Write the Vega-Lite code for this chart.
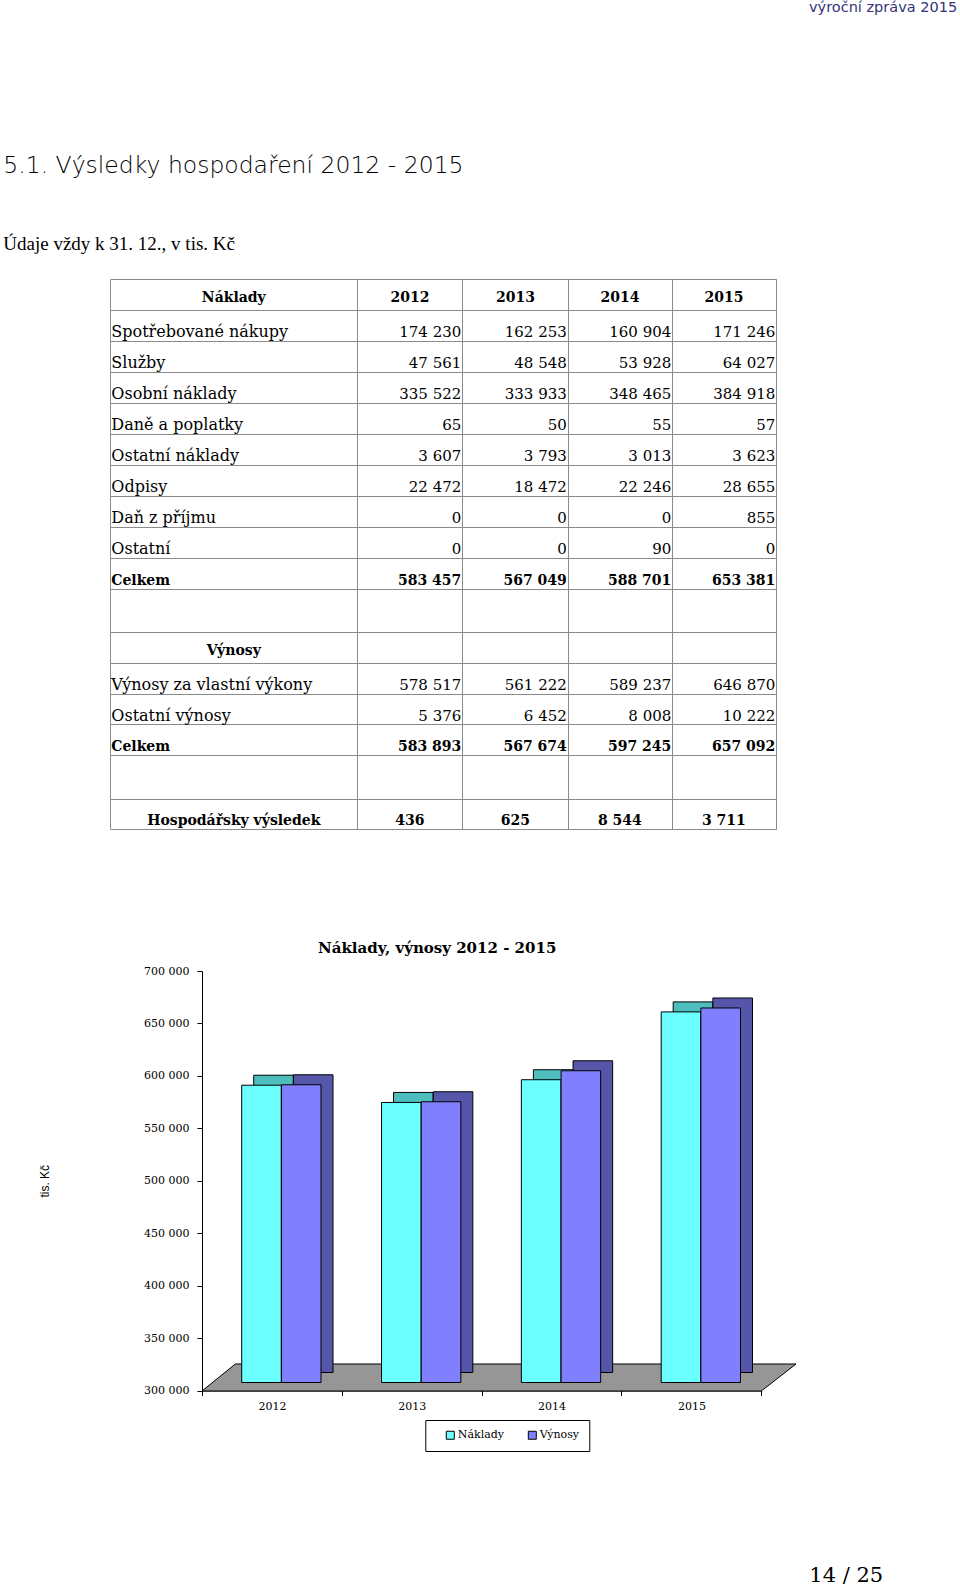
{
  "$schema": "https://vega.github.io/schema/vega-lite/v6.json",
  "background": "white",
  "padding": {"left": 3, "top": 0, "right": 0, "bottom": 0},
  "bounds": "flush",
  "spacing": 142,
  "title": {"text": "výroční zpráva 2015", "anchor": "start", "frame": "group", "dx": 607, "font": "DejaVu Sans", "fontSize": 14.5, "fontWeight": "normal", "color": "#34347a", "offset": 138},
  "datasets": {
    "table": [
      {"r": 0, "label": "Náklady", "kind": "head"},
      {"r": 1, "label": "Spotřebované nákupy", "kind": "item", "2012": 174230, "2013": 162253, "2014": 160904, "2015": 171246},
      {"r": 2, "label": "Služby", "kind": "item", "2012": 47561, "2013": 48548, "2014": 53928, "2015": 64027},
      {"r": 3, "label": "Osobní náklady", "kind": "item", "2012": 335522, "2013": 333933, "2014": 348465, "2015": 384918},
      {"r": 4, "label": "Daně a poplatky", "kind": "item", "2012": 65, "2013": 50, "2014": 55, "2015": 57},
      {"r": 5, "label": "Ostatní náklady", "kind": "item", "2012": 3607, "2013": 3793, "2014": 3013, "2015": 3623},
      {"r": 6, "label": "Odpisy", "kind": "item", "2012": 22472, "2013": 18472, "2014": 22246, "2015": 28655},
      {"r": 7, "label": "Daň z příjmu", "kind": "item", "2012": 0, "2013": 0, "2014": 0, "2015": 855},
      {"r": 8, "label": "Ostatní", "kind": "item", "2012": 0, "2013": 0, "2014": 90, "2015": 0},
      {"r": 9, "label": "Celkem", "kind": "total", "2012": 583457, "2013": 567049, "2014": 588701, "2015": 653381},
      {"r": 11, "label": "Výnosy", "kind": "head"},
      {"r": 12, "label": "Výnosy za vlastní výkony", "kind": "item", "2012": 578517, "2013": 561222, "2014": 589237, "2015": 646870},
      {"r": 13, "label": "Ostatní výnosy", "kind": "item", "2012": 5376, "2013": 6452, "2014": 8008, "2015": 10222},
      {"r": 14, "label": "Celkem", "kind": "total", "2012": 583893, "2013": 567674, "2014": 597245, "2015": 657092},
      {"r": 16, "label": "Hospodářsky výsledek", "kind": "result", "2012": 436, "2013": 625, "2014": 8544, "2015": 3711}
    ],
    "chart": [
      {"year": 2012, "series": "Náklady", "value": 583457},
      {"year": 2012, "series": "Výnosy", "value": 583893},
      {"year": 2013, "series": "Náklady", "value": 567049},
      {"year": 2013, "series": "Výnosy", "value": 567674},
      {"year": 2014, "series": "Náklady", "value": 588701},
      {"year": 2014, "series": "Výnosy", "value": 597245},
      {"year": 2015, "series": "Náklady", "value": 653381},
      {"year": 2015, "series": "Výnosy", "value": 657092}
    ]
  },
  "vconcat": [
    {
      "width": 575,
      "height": 550,
      "data": {"name": "table"},
      "title": {"text": "5.1. Výsledky hospodaření 2012 - 2015", "subtitle": "Údaje vždy k 31. 12., v tis. Kč", "anchor": "start", "frame": "group", "dx": -198.7, "font": "DejaVu Sans", "fontSize": 23.5, "fontWeight": 200, "color": "black", "subtitleFont": "Liberation Serif", "subtitleFontSize": 19, "subtitleColor": "black", "subtitlePadding": 58, "offset": 25},
      "layer": [
        {
          "transform": [
            {"fold": ["2012", "2013", "2014", "2015"], "as": ["year", "value"]},
            {"filter": "isValid(datum.value) && datum.kind === 'item'"}
          ],
          "mark": {"type": "text", "align": "right", "baseline": "middle", "dx": -1, "dy": 22, "font": "DejaVu Serif", "fontSize": 15, "fill": "black"},
          "encoding": {
            "x": {"field": "year", "type": "quantitative", "scale": {"domain": [2010, 2011, 2012, 2013, 2014, 2015], "range": [-91.7, 155.3, 260.3, 365.8, 470.3, 574.3], "zero": false, "nice": false}, "axis": {"values": [2010, 2011, 2012, 2013, 2014, 2015], "grid": true, "gridColor": "#8a8a8a", "gridOpacity": 1, "gridWidth": 1, "domain": false, "ticks": false, "labels": false, "title": null}},
            "y": {"field": "r", "type": "quantitative", "scale": {"domain": [0, 10, 11, 15, 16, 17], "range": [0, 310, 353, 476, 520, 550], "zero": false, "nice": false}, "axis": {"values": [0, 1, 2, 3, 4, 5, 6, 7, 8, 9, 10, 11, 12, 13, 14, 15, 16, 17], "grid": true, "gridColor": "#8a8a8a", "gridOpacity": 1, "gridWidth": 1, "domain": false, "ticks": false, "labels": false, "title": null}},
            "text": {"field": "value", "type": "quantitative", "format": ",d"}
          }
        },
        {
          "transform": [
            {"fold": ["2012", "2013", "2014", "2015"], "as": ["year", "value"]},
            {"filter": "isValid(datum.value) && datum.kind === 'total'"}
          ],
          "mark": {"type": "text", "align": "right", "baseline": "middle", "dx": -1, "dy": 23, "font": "DejaVu Serif", "fontSize": 14, "fontWeight": "bold", "fill": "black"},
          "encoding": {
            "x": {"field": "year", "type": "quantitative", "scale": {"domain": [2010, 2011, 2012, 2013, 2014, 2015], "range": [-91.7, 155.3, 260.3, 365.8, 470.3, 574.3], "zero": false, "nice": false}, "axis": {"values": [2010, 2011, 2012, 2013, 2014, 2015], "grid": true, "gridColor": "#8a8a8a", "gridOpacity": 1, "gridWidth": 1, "domain": false, "ticks": false, "labels": false, "title": null}},
            "y": {"field": "r", "type": "quantitative", "scale": {"domain": [0, 10, 11, 15, 16, 17], "range": [0, 310, 353, 476, 520, 550], "zero": false, "nice": false}, "axis": {"values": [0, 1, 2, 3, 4, 5, 6, 7, 8, 9, 10, 11, 12, 13, 14, 15, 16, 17], "grid": true, "gridColor": "#8a8a8a", "gridOpacity": 1, "gridWidth": 1, "domain": false, "ticks": false, "labels": false, "title": null}},
            "text": {"field": "value", "type": "quantitative", "format": ",d"}
          }
        },
        {
          "transform": [
            {"fold": ["2012", "2013", "2014", "2015"], "as": ["year", "value"]},
            {"filter": "isValid(datum.value) && datum.kind === 'result'"}
          ],
          "mark": {"type": "text", "align": "center", "baseline": "middle", "dx": -52.4, "dy": 22, "font": "DejaVu Serif", "fontSize": 14, "fontWeight": "bold", "fill": "black"},
          "encoding": {
            "x": {"field": "year", "type": "quantitative", "scale": {"domain": [2010, 2011, 2012, 2013, 2014, 2015], "range": [-91.7, 155.3, 260.3, 365.8, 470.3, 574.3], "zero": false, "nice": false}, "axis": {"values": [2010, 2011, 2012, 2013, 2014, 2015], "grid": true, "gridColor": "#8a8a8a", "gridOpacity": 1, "gridWidth": 1, "domain": false, "ticks": false, "labels": false, "title": null}},
            "y": {"field": "r", "type": "quantitative", "scale": {"domain": [0, 10, 11, 15, 16, 17], "range": [0, 310, 353, 476, 520, 550], "zero": false, "nice": false}, "axis": {"values": [0, 1, 2, 3, 4, 5, 6, 7, 8, 9, 10, 11, 12, 13, 14, 15, 16, 17], "grid": true, "gridColor": "#8a8a8a", "gridOpacity": 1, "gridWidth": 1, "domain": false, "ticks": false, "labels": false, "title": null}},
            "text": {"field": "value", "type": "quantitative", "format": ",d"}
          }
        },
        {
          "transform": [{"filter": "datum.kind === 'item'"}],
          "mark": {"type": "text", "align": "left", "baseline": "middle", "dx": 1, "dy": 22, "font": "DejaVu Serif", "fontSize": 16, "fill": "black"},
          "encoding": {
            "x": {"datum": 2010, "type": "quantitative", "scale": {"domain": [2010, 2011, 2012, 2013, 2014, 2015], "range": [-91.7, 155.3, 260.3, 365.8, 470.3, 574.3], "zero": false, "nice": false}, "axis": {"values": [2010, 2011, 2012, 2013, 2014, 2015], "grid": true, "gridColor": "#8a8a8a", "gridOpacity": 1, "gridWidth": 1, "domain": false, "ticks": false, "labels": false, "title": null}},
            "y": {"field": "r", "type": "quantitative", "scale": {"domain": [0, 10, 11, 15, 16, 17], "range": [0, 310, 353, 476, 520, 550], "zero": false, "nice": false}, "axis": {"values": [0, 1, 2, 3, 4, 5, 6, 7, 8, 9, 10, 11, 12, 13, 14, 15, 16, 17], "grid": true, "gridColor": "#8a8a8a", "gridOpacity": 1, "gridWidth": 1, "domain": false, "ticks": false, "labels": false, "title": null}},
            "text": {"field": "label", "type": "nominal"}
          }
        },
        {
          "transform": [{"filter": "datum.kind === 'total'"}],
          "mark": {"type": "text", "align": "left", "baseline": "middle", "dx": 1, "dy": 23, "font": "DejaVu Serif", "fontSize": 14, "fontWeight": "bold", "fill": "black"},
          "encoding": {
            "x": {"datum": 2010, "type": "quantitative", "scale": {"domain": [2010, 2011, 2012, 2013, 2014, 2015], "range": [-91.7, 155.3, 260.3, 365.8, 470.3, 574.3], "zero": false, "nice": false}, "axis": {"values": [2010, 2011, 2012, 2013, 2014, 2015], "grid": true, "gridColor": "#8a8a8a", "gridOpacity": 1, "gridWidth": 1, "domain": false, "ticks": false, "labels": false, "title": null}},
            "y": {"field": "r", "type": "quantitative", "scale": {"domain": [0, 10, 11, 15, 16, 17], "range": [0, 310, 353, 476, 520, 550], "zero": false, "nice": false}, "axis": {"values": [0, 1, 2, 3, 4, 5, 6, 7, 8, 9, 10, 11, 12, 13, 14, 15, 16, 17], "grid": true, "gridColor": "#8a8a8a", "gridOpacity": 1, "gridWidth": 1, "domain": false, "ticks": false, "labels": false, "title": null}},
            "text": {"field": "label", "type": "nominal"}
          }
        },
        {
          "transform": [{"filter": "datum.kind === 'head'"}],
          "mark": {"type": "text", "align": "center", "baseline": "middle", "dx": 123.5, "dy": 18.5, "font": "DejaVu Serif", "fontSize": 14, "fontWeight": "bold", "fill": "black"},
          "encoding": {
            "x": {"datum": 2010, "type": "quantitative", "scale": {"domain": [2010, 2011, 2012, 2013, 2014, 2015], "range": [-91.7, 155.3, 260.3, 365.8, 470.3, 574.3], "zero": false, "nice": false}, "axis": {"values": [2010, 2011, 2012, 2013, 2014, 2015], "grid": true, "gridColor": "#8a8a8a", "gridOpacity": 1, "gridWidth": 1, "domain": false, "ticks": false, "labels": false, "title": null}},
            "y": {"field": "r", "type": "quantitative", "scale": {"domain": [0, 10, 11, 15, 16, 17], "range": [0, 310, 353, 476, 520, 550], "zero": false, "nice": false}, "axis": {"values": [0, 1, 2, 3, 4, 5, 6, 7, 8, 9, 10, 11, 12, 13, 14, 15, 16, 17], "grid": true, "gridColor": "#8a8a8a", "gridOpacity": 1, "gridWidth": 1, "domain": false, "ticks": false, "labels": false, "title": null}},
            "text": {"field": "label", "type": "nominal"}
          }
        },
        {
          "transform": [{"filter": "datum.kind === 'result'"}],
          "mark": {"type": "text", "align": "center", "baseline": "middle", "dx": 123.5, "dy": 22, "font": "DejaVu Serif", "fontSize": 14, "fontWeight": "bold", "fill": "black"},
          "encoding": {
            "x": {"datum": 2010, "type": "quantitative", "scale": {"domain": [2010, 2011, 2012, 2013, 2014, 2015], "range": [-91.7, 155.3, 260.3, 365.8, 470.3, 574.3], "zero": false, "nice": false}, "axis": {"values": [2010, 2011, 2012, 2013, 2014, 2015], "grid": true, "gridColor": "#8a8a8a", "gridOpacity": 1, "gridWidth": 1, "domain": false, "ticks": false, "labels": false, "title": null}},
            "y": {"field": "r", "type": "quantitative", "scale": {"domain": [0, 10, 11, 15, 16, 17], "range": [0, 310, 353, 476, 520, 550], "zero": false, "nice": false}, "axis": {"values": [0, 1, 2, 3, 4, 5, 6, 7, 8, 9, 10, 11, 12, 13, 14, 15, 16, 17], "grid": true, "gridColor": "#8a8a8a", "gridOpacity": 1, "gridWidth": 1, "domain": false, "ticks": false, "labels": false, "title": null}},
            "text": {"field": "label", "type": "nominal"}
          }
        },
        {
          "data": {"name": "chart"},
          "transform": [{"filter": "datum.series === 'Náklady'"}],
          "mark": {"type": "text", "align": "center", "baseline": "middle", "dx": -52.4, "dy": 18.5, "font": "DejaVu Serif", "fontSize": 14, "fontWeight": "bold", "fill": "black"},
          "encoding": {
            "x": {"field": "year", "type": "quantitative", "scale": {"domain": [2010, 2011, 2012, 2013, 2014, 2015], "range": [-91.7, 155.3, 260.3, 365.8, 470.3, 574.3], "zero": false, "nice": false}, "axis": {"values": [2010, 2011, 2012, 2013, 2014, 2015], "grid": true, "gridColor": "#8a8a8a", "gridOpacity": 1, "gridWidth": 1, "domain": false, "ticks": false, "labels": false, "title": null}},
            "y": {"datum": 0, "type": "quantitative", "scale": {"domain": [0, 10, 11, 15, 16, 17], "range": [0, 310, 353, 476, 520, 550], "zero": false, "nice": false}, "axis": {"values": [0, 1, 2, 3, 4, 5, 6, 7, 8, 9, 10, 11, 12, 13, 14, 15, 16, 17], "grid": true, "gridColor": "#8a8a8a", "gridOpacity": 1, "gridWidth": 1, "domain": false, "ticks": false, "labels": false, "title": null}},
            "text": {"field": "year", "type": "nominal"}
          }
        }
      ]
    },
    {
      "width": 559.3,
      "height": 419.5,
      "data": {"name": "chart"},
      "title": {"text": "Náklady, výnosy 2012 - 2015", "anchor": "start", "frame": "group", "dx": 116, "font": "DejaVu Serif", "fontSize": 15, "fontWeight": "bold", "color": "black", "offset": 9},
      "layer": [
        {
          "data": {"values": [{}]},
          "mark": {"type": "point", "shape": "M-1,0.0455L0.883,0.0455L1,-0.0455L-0.888,-0.0455Z", "size": 352836, "filled": true, "fill": "#969696", "stroke": "black", "strokeWidth": 1, "opacity": 1, "xOffset": 87.3, "yOffset": -13},
          "encoding": {
            "x": {"datum": 2013, "type": "ordinal", "scale": {"paddingInner": 0, "paddingOuter": 0}, "axis": {"title": null, "labelAngle": 0, "domainColor": "black", "tickColor": "black", "tickSize": 5, "tickBand": "extent", "labelFont": "DejaVu Serif", "labelFontSize": 11, "labelColor": "black", "labelPadding": 5, "grid": false}},
            "y": {"datum": 300000, "type": "quantitative", "scale": {"domain": [300000, 700000], "zero": false, "nice": false}, "axis": {"title": "tis. Kč", "titleFont": "Liberation Sans", "titleFontSize": 12, "titleFontWeight": "normal", "titleColor": "black", "titlePadding": 92, "values": [300000, 350000, 400000, 450000, 500000, 550000, 600000, 650000, 700000], "format": ",d", "labelFont": "DejaVu Serif", "labelFontSize": 11, "labelColor": "black", "labelPadding": 8, "tickSize": 5, "domainColor": "black", "tickColor": "black", "grid": false}}
          }
        },
        {
          "transform": [{"filter": "datum.series === 'Náklady'"}],
          "mark": {"type": "bar", "width": 39.6, "xOffset": 1.6, "yOffset": -18, "y2Offset": -18, "fill": "#4dbdbd", "stroke": "black", "strokeWidth": 1},
          "encoding": {
            "x": {"field": "year", "type": "ordinal", "scale": {"paddingInner": 0, "paddingOuter": 0}, "axis": {"title": null, "labelAngle": 0, "domainColor": "black", "tickColor": "black", "tickSize": 5, "tickBand": "extent", "labelFont": "DejaVu Serif", "labelFontSize": 11, "labelColor": "black", "labelPadding": 5, "grid": false}},
            "y": {"field": "value", "type": "quantitative", "scale": {"domain": [300000, 700000], "zero": false, "nice": false}, "axis": {"title": "tis. Kč", "titleFont": "Liberation Sans", "titleFontSize": 12, "titleFontWeight": "normal", "titleColor": "black", "titlePadding": 92, "values": [300000, 350000, 400000, 450000, 500000, 550000, 600000, 650000, 700000], "format": ",d", "labelFont": "DejaVu Serif", "labelFontSize": 11, "labelColor": "black", "labelPadding": 8, "tickSize": 5, "domainColor": "black", "tickColor": "black", "grid": false}},
            "y2": {"datum": 300000}
          }
        },
        {
          "transform": [{"filter": "datum.series === 'Výnosy'"}],
          "mark": {"type": "bar", "width": 39.6, "xOffset": 41.3, "yOffset": -18, "y2Offset": -18, "fill": "#5555aa", "stroke": "black", "strokeWidth": 1},
          "encoding": {
            "x": {"field": "year", "type": "ordinal", "scale": {"paddingInner": 0, "paddingOuter": 0}, "axis": {"title": null, "labelAngle": 0, "domainColor": "black", "tickColor": "black", "tickSize": 5, "tickBand": "extent", "labelFont": "DejaVu Serif", "labelFontSize": 11, "labelColor": "black", "labelPadding": 5, "grid": false}},
            "y": {"field": "value", "type": "quantitative", "scale": {"domain": [300000, 700000], "zero": false, "nice": false}, "axis": {"title": "tis. Kč", "titleFont": "Liberation Sans", "titleFontSize": 12, "titleFontWeight": "normal", "titleColor": "black", "titlePadding": 92, "values": [300000, 350000, 400000, 450000, 500000, 550000, 600000, 650000, 700000], "format": ",d", "labelFont": "DejaVu Serif", "labelFontSize": 11, "labelColor": "black", "labelPadding": 8, "tickSize": 5, "domainColor": "black", "tickColor": "black", "grid": false}},
            "y2": {"datum": 300000}
          }
        },
        {
          "transform": [{"filter": "datum.series === 'Náklady'"}],
          "mark": {"type": "bar", "width": 39.6, "xOffset": -10.4, "yOffset": -8, "y2Offset": -8, "stroke": "black", "strokeWidth": 1},
          "encoding": {
            "x": {"field": "year", "type": "ordinal", "scale": {"paddingInner": 0, "paddingOuter": 0}, "axis": {"title": null, "labelAngle": 0, "domainColor": "black", "tickColor": "black", "tickSize": 5, "tickBand": "extent", "labelFont": "DejaVu Serif", "labelFontSize": 11, "labelColor": "black", "labelPadding": 5, "grid": false}},
            "y": {"field": "value", "type": "quantitative", "scale": {"domain": [300000, 700000], "zero": false, "nice": false}, "axis": {"title": "tis. Kč", "titleFont": "Liberation Sans", "titleFontSize": 12, "titleFontWeight": "normal", "titleColor": "black", "titlePadding": 92, "values": [300000, 350000, 400000, 450000, 500000, 550000, 600000, 650000, 700000], "format": ",d", "labelFont": "DejaVu Serif", "labelFontSize": 11, "labelColor": "black", "labelPadding": 8, "tickSize": 5, "domainColor": "black", "tickColor": "black", "grid": false}},
            "y2": {"datum": 300000},
            "fill": {"field": "series", "type": "nominal", "scale": {"domain": ["Náklady", "Výnosy"], "range": ["#6bffff", "#8080ff"]}, "legend": {"orient": "none", "legendX": 223.3, "legendY": 1141, "direction": "horizontal", "title": null, "symbolType": "square", "symbolSize": 64, "symbolStrokeColor": "black", "symbolStrokeWidth": 1, "labelFont": "DejaVu Serif", "labelFontSize": 11, "labelColor": "black", "padding": 9.5, "strokeColor": "black", "columnPadding": 12, "symbolOffset": 10, "labelOffset": 2}}
          }
        },
        {
          "transform": [{"filter": "datum.series === 'Výnosy'"}],
          "mark": {"type": "bar", "width": 39.6, "xOffset": 29.3, "yOffset": -8, "y2Offset": -8, "stroke": "black", "strokeWidth": 1},
          "encoding": {
            "x": {"field": "year", "type": "ordinal", "scale": {"paddingInner": 0, "paddingOuter": 0}, "axis": {"title": null, "labelAngle": 0, "domainColor": "black", "tickColor": "black", "tickSize": 5, "tickBand": "extent", "labelFont": "DejaVu Serif", "labelFontSize": 11, "labelColor": "black", "labelPadding": 5, "grid": false}},
            "y": {"field": "value", "type": "quantitative", "scale": {"domain": [300000, 700000], "zero": false, "nice": false}, "axis": {"title": "tis. Kč", "titleFont": "Liberation Sans", "titleFontSize": 12, "titleFontWeight": "normal", "titleColor": "black", "titlePadding": 92, "values": [300000, 350000, 400000, 450000, 500000, 550000, 600000, 650000, 700000], "format": ",d", "labelFont": "DejaVu Serif", "labelFontSize": 11, "labelColor": "black", "labelPadding": 8, "tickSize": 5, "domainColor": "black", "tickColor": "black", "grid": false}},
            "y2": {"datum": 300000},
            "fill": {"field": "series", "type": "nominal"}
          }
        }
      ]
    },
    {
      "width": 575,
      "height": 50,
      "data": {"values": [{"page": "14 / 25"}]},
      "mark": {"type": "text", "align": "center", "baseline": "middle", "dx": 356.8, "dy": 17.5, "font": "DejaVu Serif", "fontSize": 21, "fill": "black"},
      "encoding": {"text": {"field": "page", "type": "nominal"}}
    }
  ],
  "config": {
    "view": {"stroke": null},
    "locale": {"number": {"decimal": ",", "thousands": " ", "grouping": [3], "currency": ["", " Kč"]}},
    "text": {"color": "black"}
  }
}
